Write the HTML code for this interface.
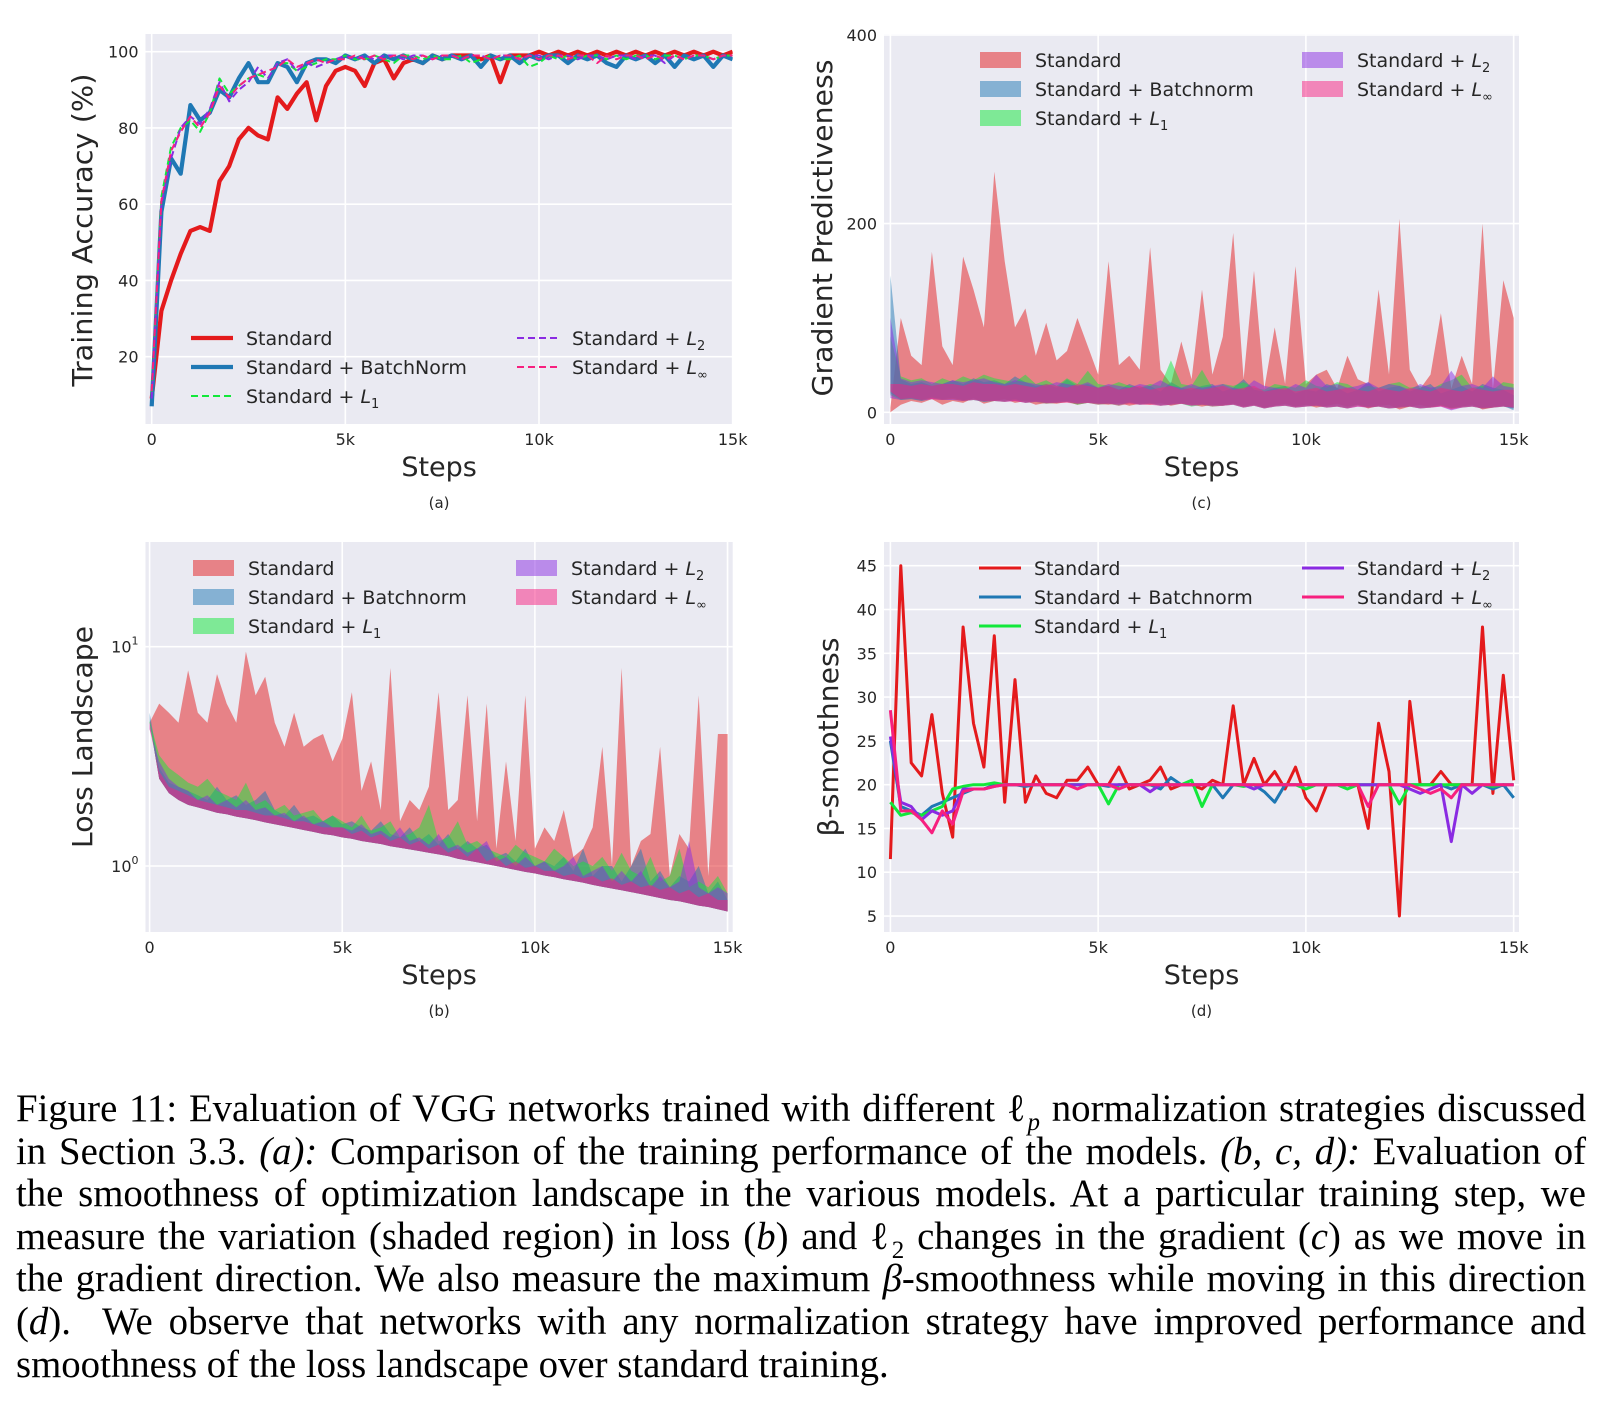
<!DOCTYPE html>
<html><head><meta charset="utf-8">
<style>
html,body{margin:0;padding:0;background:#fff;}
body{width:1604px;height:1420px;position:relative;overflow:hidden;}
#fig{position:absolute;left:0;top:0;}
.cap{position:absolute;left:16px;width:1570px;font-family:"Liberation Serif",serif;font-size:38.8px;line-height:42.6px;color:#000;}
.cap div{text-align:justify;text-align-last:justify;white-space:nowrap;height:42.6px;}
.cap div.last{text-align-last:left;}
.cap sub{font-size:25px;line-height:0;}
</style></head>
<body>
<svg id="fig" width="1604" height="1420" xmlns="http://www.w3.org/2000/svg" font-family="DejaVu Sans, sans-serif"></svg>
<div class="cap" style="top:1088px">
<div>Figure 11: Evaluation of VGG networks trained with different ℓ<sub><i>p</i></sub> normalization strategies discussed</div>
<div>in Section 3.3. <i>(a):</i> Comparison of the training performance of the models. <i>(b, c, d):</i> Evaluation of</div>
<div>the smoothness of optimization landscape in the various models. At a particular training step, we</div>
<div>measure the variation (shaded region) in loss (<i>b</i>) and ℓ<sub>2</sub> changes in the gradient (<i>c</i>) as we move in</div>
<div>the gradient direction. We also measure the maximum <i>β</i>-smoothness while moving in this direction</div>
<div>(<i>d</i>).&nbsp; We observe that networks with any normalization strategy have improved performance and</div>
<div class="last">smoothness of the loss landscape over standard training.</div>
</div>
<script>
// ---- shared x categories (thousands of steps) ----
const steps = [0,0.25,0.5,0.75,1,1.25,1.5,1.75,2,2.25,2.5,2.75,3,3.25,3.5,3.75,4,4.25,4.5,4.75,5,5.25,5.5,5.75,6,6.25,6.5,6.75,7,7.25,7.5,7.75,8,8.25,8.5,8.75,9,9.25,9.5,9.75,10,10.25,10.5,10.75,11,11.25,11.5,11.75,12,12.25,12.5,12.75,13,13.25,13.5,13.75,14,14.25,14.5,14.75,15];
const xTickValues = [0,5,10,15];
const xTickLabels = ["0","5k","10k","15k"];

// ---- (a) training accuracy ----
const accStd = [9,32,40,47,53,54,53,66,70,77, 80,78,77,88,85,89,92,82,91,95, 96,95,91,97,98,93,97,98,97,99, 98,99,99,99,98,99,92,99,99,99, 100,99,100,99,100,99,100,99,100,99, 100,99,100,99,100,99,100,99,100,99, 100];
const accBN = [7,58,72,68,86,82,84,90,88,93, 97,92,92,97,96,92,97,98,98,97, 99,98,99,97,99,98,99,98,97,99, 98,99,98,99,96,99,98,99,97,99, 98,99,99,97,99,98,99,97,96,99, 98,99,97,99,96,99,98,99,96,99, 98];
const accL1 = [10,62,75,80,82,79,84,93,89,91, 93,94,93,97,97,95,96,97,98,98, 99,98,98,99,98,97,99,99,98,99, 98,98,99,97,98,99,98,98,99,96, 97,99,98,99,98,99,99,98,99,98, 99,99,98,99,99,98,99,99,98,99, 99];
const accL2 = [9,60,72,80,83,81,85,92,87,90, 92,96,93,97,98,95,97,96,97,98, 99,98,99,98,99,99,98,99,99,98, 99,99,98,99,99,98,99,99,98,99, 99,98,99,99,98,99,99,98,99,99, 98,99,99,97,99,98,99,99,98,99, 99];
const accLinf = [11,61,74,79,83,80,84,91,88,91, 93,94,95,96,98,96,97,98,97,98, 98,99,98,99,98,99,99,98,99,98, 99,99,98,99,99,98,99,99,98,99, 98,99,99,98,99,99,97,99,98,99, 99,98,99,98,99,98,99,99,98,99, 99];
const accTicks = [20,40,60,80,100];

// ---- (c) gradient predictiveness ----
const gpStdHi = [5,100,60,50,170,70,50,165,130,90, 255,160,90,110,60,95,55,65,100,70, 40,160,50,60,45,175,45,30,75,35, 130,40,80,190,35,150,25,90,30,155, 30,40,45,25,60,35,30,130,40,205, 45,25,40,105,25,60,30,200,25,140, 100];
const gpStdLo = [0,8,12,10,14,8,12,10,15,9, 12,14,10,12,8,10,9,11,8,10, 9,8,10,7,9,8,10,7,9,8, 6,8,7,9,6,8,5,7,9,6, 8,5,7,9,6,8,4,7,8,3, 6,8,5,7,4,6,8,3,5,7, 5];
const gpBNHi = [145,35,30,32,28,30,34,30,36,32, 34,30,38,32,28,30,26,35,28,30, 26,28,24,30,26,28,22,32,26,24, 28,30,22,26,35,24,22,26,28,20, 24,22,30,26,20,24,32,22,26,28, 22,26,30,20,24,28,22,30,26,24, 18];
const gpBNLo = [20,14,15,13,16,14,15,13,14,12, 13,12,14,11,12,10,11,12,10,11, 9,10,8,11,9,10,8,9,10,8, 9,7,8,9,6,8,5,7,8,6, 7,8,6,7,5,8,6,7,5,6, 7,5,6,8,5,6,7,5,6,7, 2];
const gpL1Hi = [80,38,34,36,30,36,32,38,34,40, 36,34,32,40,30,34,28,36,30,44, 30,28,32,28,26,30,28,55,30,28, 45,26,30,28,32,26,24,30,28,26, 34,28,26,32,30,24,28,26,30,32, 26,28,24,30,34,40,26,28,24,32, 30];
const gpL1Lo = [18,13,14,12,15,13,14,12,13,11, 12,11,13,10,11,9,10,11,8,10, 8,9,7,10,8,9,7,8,9,6, 8,6,7,8,5,7,4,6,7,5, 6,7,5,6,4,7,5,6,4,5, 6,4,5,7,4,5,6,4,5,6, 4];
const gpL2Hi = [100,36,32,34,32,30,34,32,34,36, 32,30,34,32,30,28,32,30,28,32, 26,30,28,26,30,28,34,28,26,30, 26,28,30,26,24,34,28,26,24,30, 26,40,28,30,26,28,32,26,30,28, 24,30,26,28,44,28,30,26,38,28, 26];
const gpL2Lo = [15,13,14,12,14,13,13,12,13,11, 12,11,12,10,11,10,10,11,9,10, 9,9,8,10,8,9,7,8,9,7, 8,7,7,8,5,7,4,6,7,5, 6,7,5,6,4,6,5,6,4,5, 6,4,5,6,2,5,6,4,5,6, 4];
const gpLinfHi = [30,30,28,30,28,30,30,28,32,30, 30,28,30,28,26,30,28,26,30,28, 26,28,24,26,28,24,26,28,24,26, 24,26,28,24,26,28,22,24,26,22, 24,26,22,24,26,24,22,26,24,22, 26,24,22,26,24,22,26,24,22,24, 24];
const gpLinfLo = [22,14,15,13,14,13,14,12,13,12, 12,11,12,10,11,9,10,10,9,10, 8,9,7,9,8,8,7,8,9,7, 8,6,7,8,5,7,4,6,7,5, 6,7,5,6,4,6,5,6,4,5, 6,4,5,6,3,5,6,4,5,6, 5];
const gpTicks = [0,200,400];

// ---- (b) loss landscape ----
const lossFloor = [4.5,2.5,2.15,2.0,1.9,1.85,1.8,1.75,1.72,1.68, 1.65,1.62,1.58,1.55,1.52,1.49,1.46,1.43,1.40,1.38, 1.35,1.33,1.30,1.28,1.26,1.23,1.21,1.19,1.17,1.15, 1.13,1.11,1.08,1.06,1.04,1.02,1.0,0.98,0.96,0.94, 0.925,0.905,0.89,0.87,0.855,0.84,0.82,0.805,0.79,0.775, 0.76,0.745,0.73,0.715,0.70,0.69,0.675,0.66,0.65,0.635, 0.62];
const lossStdHi = [4.5,5.5,5.0,4.5,7.8,5.0,4.5,7.5,5.5,4.5, 9.5,6.0,7.3,4.5,3.5,5.0,3.5,3.8,4.0,3.0, 3.8,6.2,2.2,3.0,1.8,8.0,1.6,2.0,1.8,2.3, 6.2,1.8,2.0,6.0,1.6,5.5,1.2,3.0,1.3,6.0, 1.2,1.5,1.3,1.8,1.1,1.2,1.5,3.5,1.0,8.0, 1.0,1.3,1.4,3.5,0.9,1.4,1.2,6.0,0.9,4.0, 4.0];
const lossBNHi = [5.0,2.8,2.4,2.3,2.2,2.1,2.0,2.3,2.0,2.1, 1.9,2.0,2.2,1.8,1.7,1.9,1.65,1.7,1.6,1.7, 1.55,1.6,1.5,1.45,1.6,1.4,1.35,1.5,1.3,1.4, 1.25,1.4,1.2,1.3,1.2,1.25,1.1,1.15,1.05,1.2, 1.0,1.05,1.0,1.1,0.95,1.2,0.9,1.0,1.0,0.85, 1.0,1.2,0.85,0.95,0.8,0.9,0.85,1.0,0.75,0.85, 0.7];
const lossL1Hi = [4.6,3.2,2.8,2.6,2.4,2.3,2.5,2.2,2.1,2.0, 2.4,1.9,2.0,1.8,1.9,1.7,1.75,1.8,1.6,1.7, 1.6,1.5,1.7,1.45,1.5,1.6,1.35,1.4,1.5,1.9, 1.3,1.35,1.6,1.25,1.3,1.2,1.15,1.1,1.25,1.15, 1.1,1.05,1.2,1.1,1.0,1.05,1.0,1.1,0.95,1.15, 0.95,0.9,1.1,0.85,0.9,1.2,0.8,0.85,0.8,0.9, 0.75];
const lossL2Hi = [4.2,3.0,2.5,2.3,2.2,2.0,2.1,1.9,2.0,1.85, 2.0,1.8,1.85,1.7,1.75,1.6,1.7,1.55,1.6,1.5, 1.5,1.45,1.55,1.4,1.45,1.35,1.5,1.3,1.35,1.25, 1.4,1.2,1.25,1.15,1.2,1.3,1.05,1.1,1.0,1.1, 1.0,1.05,0.95,1.0,1.1,0.9,0.95,1.0,0.85,0.95, 0.85,0.95,0.8,0.9,0.8,0.85,1.3,0.8,0.75,0.8, 0.75];
const lossLinfHi = [4.2,2.7,2.3,2.2,2.1,2.0,1.95,1.9,1.85,1.8, 1.8,1.75,1.7,1.7,1.65,1.6,1.6,1.55,1.5,1.5, 1.5,1.4,1.45,1.35,1.4,1.3,1.35,1.25,1.3,1.2, 1.25,1.15,1.2,1.1,1.2,1.05,1.1,1.0,1.05,0.98, 1.0,0.95,0.95,0.9,0.92,0.88,0.9,0.85,0.88,0.82, 0.85,0.8,0.82,0.78,0.8,0.75,0.78,0.72,0.75,0.7, 0.7];
const lossTicks = [1,10];

// ---- (d) beta smoothness ----
const betaStd = [11.5,45,22.5,21,28,19,14,38,27,22, 37,18,32,18,21,19,18.5,20.5,20.5,22, 20,20,22,19.5,20,20.5,22,19.5,20,20, 19.5,20.5,20,29,20,23,20,21.5,19.5,22, 18.5,17,20,20,20,20,15,27,21.5,5, 29.5,20,20,21.5,20,20,20,38,19,32.5, 20.5];
const betaBN = [25,17.5,17,16.5,17.5,18,18.5,19,19.5,19.5, 20,20,20,19.8,20,20,20,20,20,20, 20,19.8,20,20,20,20,19.5,20.8,20,20, 20,20,18.5,20,20,20,19.2,18,20,20, 20,20,20,20,20,20,20,20,20,20, 20,20,20,20,19.5,20,20,20,19.5,20, 18.5];
const betaL1 = [18,16.5,16.8,16.5,17,17.5,19.5,19.8,20,20, 20.2,20,20,20,20,20,20,20,20,20, 20,17.8,20,20,20,20,20,20,20,20.5, 17.5,20,20,20,19.8,20,20,20,20,20, 19.5,20,20,20,19.5,20,20,20,20,17.8, 20,20,20,20,20,20,20,20,19.8,20, 20];
const betaL2 = [25.5,18,17.5,16,17,16.5,17,19.5,19.5,19.5, 19.8,20,20,20,20,20,20,20,20,20, 20,20,20,20,20,19.2,20,20,20,20, 20,20,20,20,20,19.5,20,20,20,20, 20,20,20,20,20,20,20,20,20,20, 19.5,19,19.5,20,13.5,20,19,20,20,20, 20];
const betaLinf = [28.5,17,17,16,14.5,17,15.5,19.2,19.5,19.5, 19.8,20,20,20,20,20,20,20,19.5,20, 20,20,19.5,20,20,20,20,20,20,20, 20,20,20,20,20,20,20,20,20,20, 20,20,20,20,20,20,17.5,20,20,20, 20,19.5,19,19.5,18.5,20,20,20,20,20, 20];
const betaTicks = [5,10,15,20,25,30,35,40,45];

const C = {red:"#e41a1c", blue:"#1f78b4", green:"#12e83a", purple:"#8a2be2", pink:"#f7207f"};
const NS = "http://www.w3.org/2000/svg";
const svg = document.getElementById("fig");
function el(tag, attrs, parent){const e=document.createElementNS(NS,tag);for(const k in attrs)e.setAttribute(k,attrs[k]);(parent||svg).appendChild(e);return e;}

function makePanel(p){
  const g = el("g",{});
  
  
  const bg = el("rect",{x:p.L,y:p.T,width:p.R-p.L,height:p.B-p.T,fill:"#eaeaf2"},g);
  
  
  const clip = el("clipPath",{id:"clip-"+p.id},g);
  el("rect",{x:p.L,y:p.T,width:p.R-p.L,height:p.B-p.T},clip);
  xTickValues.forEach((v,i)=>{
    const x=p.xs(v);
    const gl=el("line",{x1:x,x2:x,y1:p.T,y2:p.B,stroke:"#fff","stroke-width":1.6},g);
    
    
    const t=el("text",{x:x,y:p.B+21,"text-anchor":"middle","font-size":16,fill:"#262626"},g);
    t.textContent=xTickLabels[i];
    
    
  });
  p.yticks.forEach(v=>{
    const y=p.ys(v);
    const gl=el("line",{x1:p.L,x2:p.R,y1:y,y2:y,stroke:"#fff","stroke-width":1.6},g);
    
    
    const t=el("text",{x:p.L-7,y:y+6,"text-anchor":"end","font-size":16,fill:"#262626"},g);
    if(p.log){
      t.textContent="10";
      const s=el("tspan",{dy:-8,"font-size":11},t); s.textContent=String(Math.round(Math.log10(v)));
    } else t.textContent=String(v);
    
    
  });
  const data = el("g",{"clip-path":"url(#clip-"+p.id+")"},g);
  p.series.forEach(s=>{
    if(s.hi){
      const pts=[];
      steps.forEach((k,i)=>pts.push(p.xs(k).toFixed(1)+","+p.ys(s.hi[i]).toFixed(1)));
      for(let i=steps.length-1;i>=0;i--) pts.push(p.xs(steps[i]).toFixed(1)+","+p.ys(s.lo[i]).toFixed(1));
      const poly=el("polygon",{points:pts.join(" "),fill:s.color,"fill-opacity":s.op||0.5,stroke:"none"},data);
      
      
    } else {
      const pts=steps.map((k,i)=>p.xs(k).toFixed(1)+","+p.ys(s.vals[i]).toFixed(1)).join(" ");
      const a={points:pts,fill:"none",stroke:s.color,"stroke-width":s.w,"stroke-linejoin":"round"};
      if(s.dash) a["stroke-dasharray"]=s.dash;
      const pl=el("polyline",a,data);
      
      
    }
  });
  const lg = el("g",{},g);
  
  
  p.series.forEach((s,i)=>{
    const col = i<3?0:1, row = i<3?i:i-3;
    const hx = p.legX[col], ty = p.legY + row*29;
    const e = el("g",{},lg);
    
    
    if(s.hi){
      el("rect",{x:hx,y:ty-8,width:41,height:16,fill:s.color,"fill-opacity":s.op||0.5},e);
    } else {
      const a={x1:hx,x2:hx+42,y1:ty,y2:ty,stroke:s.color,"stroke-width":s.w};
      if(s.dash) a["stroke-dasharray"]=s.dash;
      el("line",a,e);
    }
    const t=el("text",{x:hx+55,y:ty+7,"font-size":19,fill:"#262626"},e);
    t.textContent = s.label;
    if(s.sub){
      const it=el("tspan",{"font-style":"italic"},t); it.textContent="L";
      const sb=el("tspan",{"font-size":13,dy:5},t); sb.textContent=s.sub;
    }
  });
  const xl=el("text",{x:(p.L+p.R)/2,y:p.B+52,"text-anchor":"middle","font-size":27,fill:"#262626"},g);
  xl.textContent="Steps";
  
  
  const yl=el("text",{x:0,y:0,"text-anchor":"middle","font-size":28,fill:"#262626",transform:`translate(${p.ylx},${p.yly}) rotate(-90)`,textLength:p.ylLen,lengthAdjust:"spacingAndGlyphs"},g);
  yl.textContent=p.ylabel;
  
  
  const sc=el("text",{x:(p.L+p.R)/2,y:p.B+84,"text-anchor":"middle","font-size":15,fill:"#262626"},g);
  sc.textContent=p.sub;
  
  
}

makePanel({id:"a",name:"training-accuracy-chart",L:145.5,R:732.7,T:34,B:424,
  xs:k=>151.7+k*38.73, ys:v=>356.7-(v-20)*3.8125, yticks:accTicks,
  legX:[191,517], legY:338, ylabel:"Training Accuracy (%)", ylx:92, yly:230, ylLen:313, sub:"(a)",
  series:[
    {key:"standard",vals:accStd,color:C.red,w:4.2,label:"Standard"},
    {key:"batchnorm",vals:accBN,color:C.blue,w:4.2,label:"Standard + BatchNorm"},
    {key:"l1",vals:accL1,color:C.green,w:2,dash:"7,4",label:"Standard + ",sub:"1"},
    {key:"l2",vals:accL2,color:C.purple,w:2,dash:"7,4",label:"Standard + ",sub:"2"},
    {key:"linf",vals:accLinf,color:C.pink,w:2,dash:"7,4",label:"Standard + ",sub:"∞"}
  ]});
makePanel({id:"c",name:"gradient-predictiveness-chart",L:884,R:1519,T:34,B:424,
  xs:k=>890.4+k*41.55, ys:v=>412.3-v*0.9435, yticks:gpTicks,
  legX:[980,1302], legY:60, ylabel:"Gradient Predictiveness", ylx:832, yly:228, ylLen:337, sub:"(c)",
  series:[
    {key:"standard",hi:gpStdHi,lo:gpStdLo,color:C.red,label:"Standard"},
    {key:"batchnorm",hi:gpBNHi,lo:gpBNLo,color:C.blue,label:"Standard + Batchnorm"},
    {key:"l1",hi:gpL1Hi,lo:gpL1Lo,color:C.green,label:"Standard + ",sub:"1"},
    {key:"l2",hi:gpL2Hi,lo:gpL2Lo,color:C.purple,label:"Standard + ",sub:"2"},
    {key:"linf",hi:gpLinfHi,lo:gpLinfLo,color:C.pink,label:"Standard + ",sub:"∞"}
  ]});
makePanel({id:"b",name:"loss-landscape-chart",L:145.5,R:732.7,T:542,B:932,log:true,
  xs:k=>149.6+k*38.53, ys:v=>866-Math.log10(v)*219.3, yticks:lossTicks,
  legX:[193,516], legY:568, ylabel:"Loss Landscape", ylx:92, yly:737, ylLen:222, sub:"(b)",
  series:[
    {key:"standard",hi:lossStdHi,lo:lossFloor,color:C.red,label:"Standard"},
    {key:"batchnorm",hi:lossBNHi,lo:lossFloor,color:C.blue,label:"Standard + Batchnorm"},
    {key:"l1",hi:lossL1Hi,lo:lossFloor,color:C.green,label:"Standard + ",sub:"1"},
    {key:"l2",hi:lossL2Hi,lo:lossFloor,color:C.purple,label:"Standard + ",sub:"2"},
    {key:"linf",hi:lossLinfHi,lo:lossFloor,color:C.pink,label:"Standard + ",sub:"∞"}
  ]});
makePanel({id:"d",name:"beta-smoothness-chart",L:884,R:1519,T:542,B:932,
  xs:k=>890.4+k*41.55, ys:v=>565.7-(v-45)*8.758, yticks:betaTicks,
  legX:[979,1302], legY:568, ylabel:"β-smoothness", ylx:838, yly:737, ylLen:199, sub:"(d)",
  series:[
    {key:"standard",vals:betaStd,color:C.red,w:3,label:"Standard"},
    {key:"batchnorm",vals:betaBN,color:C.blue,w:3,label:"Standard + Batchnorm"},
    {key:"l1",vals:betaL1,color:C.green,w:3,label:"Standard + ",sub:"1"},
    {key:"l2",vals:betaL2,color:C.purple,w:3,label:"Standard + ",sub:"2"},
    {key:"linf",vals:betaLinf,color:C.pink,w:3,label:"Standard + ",sub:"∞"}
  ]});
</script>
</body></html>
